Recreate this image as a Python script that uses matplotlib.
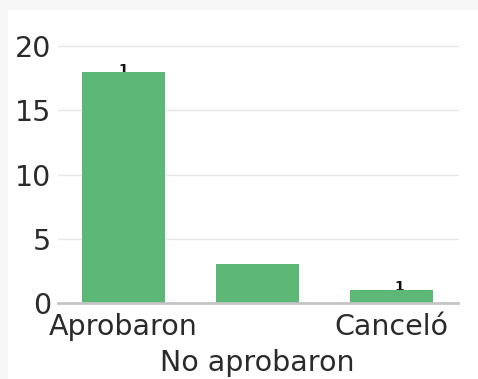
import matplotlib
matplotlib.use("Agg")
import matplotlib.pyplot as plt
from matplotlib.patches import Rectangle
from matplotlib.transforms import blended_transform_factory, offset_copy

# Data
categories = ["Aprobaron", "No aprobaron", "Canceló"]
counts = [18, 3, 1]
annotations = ["1", "", "1"]
y_ticks = [0, 5, 10, 15, 20]

BAR_COLOR = "#5db877"
TEXT_COLOR = "#2a2a2a"
GRID_COLOR = "#e6e6e6"
BASE_COLOR = "#c4c4c4"
FONT_SIZE = 20.5

plt.rcParams["font.family"] = ["DejaVu Sans"]

fig = plt.figure(figsize=(4.78, 3.79), dpi=100)
fig.patch.set_facecolor("white")

# thin light-grey frame strips along the top and left edges
W, H = 478, 379
fig.patches.append(Rectangle((0, 1 - 10 / H), 1, 10 / H, transform=fig.transFigure,
                             facecolor="#f7f7f7", edgecolor="none", zorder=0))
fig.patches.append(Rectangle((0, 0), 8 / W, 1, transform=fig.transFigure,
                             facecolor="#f7f7f7", edgecolor="none", zorder=0))

ax = fig.add_axes([58 / W, 1 - 303 / H, (458 - 58) / W, (303 - 46) / H])
ax.set_facecolor("none")

x = list(range(len(categories)))
bars = ax.bar(x, counts, width=0.62, color=BAR_COLOR, zorder=3)

# small annotations sitting partly behind the bar tops
label_dx = [0, 0, 6]
label_dy = [1, 0, 2]
for xi, val, lab, dx, dy in zip(x, counts, annotations, label_dx, label_dy):
    if lab:
        ax.annotate(lab, (xi, val), xytext=(dx, dy), textcoords="offset points",
                    ha="center", va="center", fontsize=10, color="#111111",
                    fontweight="bold", zorder=2)

ax.set_xlim(-0.49, 2.5)
ax.set_ylim(0, 20)
ax.set_yticks(y_ticks)
ax.set_yticklabels([str(t) for t in y_ticks])

# staggered category labels: odd positions drop to a second row
ax.set_xticks(x)
ax.set_xticklabels([c if i % 2 == 0 else "" for i, c in enumerate(categories)])
row2 = offset_copy(blended_transform_factory(ax.transData, ax.transAxes),
                   fig=fig, y=-60 * 72 / 100, units="points")
for i, c in enumerate(categories):
    if i % 2 == 1:
        ax.text(i, 0, c, transform=row2, ha="center", va="center",
                fontsize=FONT_SIZE, color=TEXT_COLOR)

ax.tick_params(axis="both", length=0, labelsize=FONT_SIZE, colors=TEXT_COLOR)
ax.tick_params(axis="x", pad=7)
ax.tick_params(axis="y", pad=5)

for t in y_ticks[1:]:
    ax.axhline(t, color=GRID_COLOR, lw=1, zorder=1, clip_on=False)
ax.axhline(0, color=BASE_COLOR, lw=2, zorder=4, clip_on=False)

for s in ax.spines.values():
    s.set_visible(False)

fig.savefig("out.png", dpi=100, facecolor=fig.get_facecolor())
